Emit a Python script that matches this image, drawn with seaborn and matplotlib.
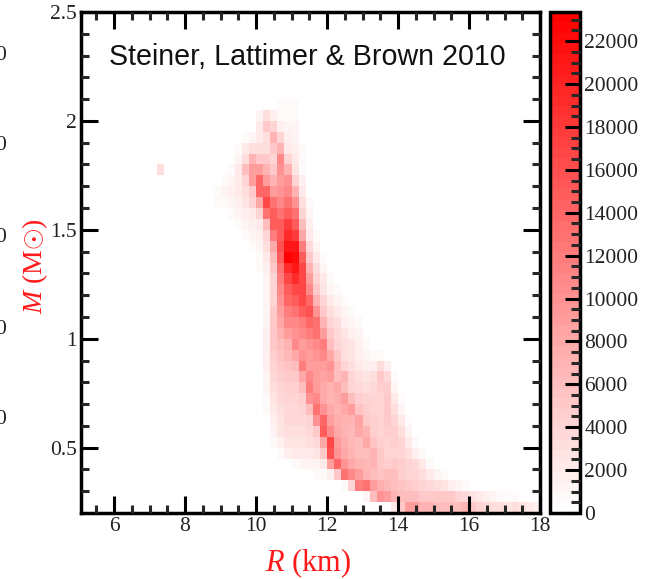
import numpy as np
import pandas as pd
import matplotlib
matplotlib.use("Agg")
import matplotlib.pyplot as plt
from matplotlib.colors import LinearSegmentedColormap
from matplotlib.ticker import FixedLocator
import seaborn as sns

# Histogram: counts in thousands per cell.
R_STEP = 0.2
M_STEP = 0.05
R_EDGES_START, R_EDGES_STOP = 5.0, 18.0
M_EDGES_START, M_EDGES_STOP = 0.2, 2.5

mass_rows = [0.20, 0.25, 0.30, 0.35, 0.40, 0.45, 0.50, 0.55, 0.60, 0.65, 0.70, 0.75, 0.80,
             0.85, 0.90, 0.95, 1.00, 1.05, 1.10, 1.15, 1.20, 1.25, 1.30, 1.35, 1.40, 1.45,
             1.50, 1.55, 1.60, 1.65, 1.70, 1.75, 1.80, 1.85, 1.90, 1.95, 2.00, 2.05]
row_first_R = [13.8, 13.0, 12.4, 11.4, 10.8, 10.6, 10.4, 10.4, 10.2, 10.2, 10.2, 10.2, 10.2,
               10.2, 10.2, 10.2, 10.2, 10.2, 10.0, 10.0, 10.0, 9.8, 9.8, 9.6, 9.6, 9.4,
               9.2, 8.8, 8.4, 8.6, 8.8, 9.0, 9.2, 9.2, 9.6, 9.8, 10.0, 10.0]
row_counts = [
    [2, 5, 9, 9, 7, 7, 6, 6, 6, 6, 7, 5, 4, 3.5, 3, 3, 2.5, 3, 2.5, 2, 1.5],
    [1, 6, 10, 9, 7, 6, 6, 6, 5, 5, 5, 5, 5, 4, 3.5, 2.5, 2, 1.5, 1, .7, .5, .5],
    [.8, 4, 12, 13, 9, 7.5, 6.5, 6, 5.5, 5, 4.5, 4, 3.5, 3, 2.5, 1.8, 1, .5, .2],
    [.3, .5, .8, 1.5, 5, 13, 11, 9, 7, 6, 5.5, 6, 6, 4.5, 4, 4, 3, 2, 1, .5, .2],
    [.3, .8, 1, 1, 1.3, 2, 9, 14, 10, 8, 7, 6.5, 7, 5, 4.5, 5, 4.5, 4, 3.5, 2, .8, .3],
    [.5, 1.5, 2, 2, 2, 2.5, 5, 16, 10, 8, 7, 6, 6, 7, 5, 4, 4, 4, 3, 1.5, .6, .2],
    [.5, 1.5, 2.5, 2.5, 2.5, 3, 3.5, 8, 17, 9, 7.5, 6.5, 6, 8, 5.5, 4.5, 4, 4.5, 4, 2, .8, .2],
    [1, 2.5, 3, 3, 3, 3.5, 5, 15, 11, 8, 7, 6.5, 8, 7, 4.5, 4, 4.5, 4.5, 3, 1.2, .3],
    [.3, 1.5, 2.5, 3.5, 3.5, 3.5, 4, 10, 14, 9, 7.5, 7, 7, 8.5, 5, 4.5, 4, 5, 4, 2, .7, .2],
    [.5, 2, 3, 3.5, 3.5, 4, 6, 13, 10, 8, 7, 8, 9, 5.5, 4.5, 4, 4, 5, 3, 1, .3],
    [.8, 2.5, 3.5, 4, 4, 4.5, 10, 11, 8, 7, 7.5, 9, 6, 4.5, 4, 4, 4, 5, 2, .5],
    [1, 3, 4, 4.5, 4.5, 6, 12, 9, 8, 7, 8, 6, 4, 3.5, 3, 3.5, 4.5, 4.5, 1.2, .3],
    [1.2, 3.5, 4.5, 5, 5, 8, 11, 9, 8.5, 9, 6, 7, 4, 3, 2.5, 3, 5, 3.5, .5],
    [1.5, 4, 5, 5.5, 6, 12, 9, 9, 9, 10, 6, 4, 3, 2, 1.5, 1.5, 3, 1.5, .2],
    [1.5, 4.5, 5.5, 6.5, 8, 10, 9, 10, 11, 8, 5, 3, 2.5, 1.5, 1, .7, .5],
    [1.5, 5, 6, 7, 11, 9, 10, 11, 12, 6, 4, 3, 2.5, 1.5, .7, .4],
    [1.5, 5, 7, 9, 10, 11, 12, 13, 9, 5, 3.5, 2.5, 1.5, 1, .4],
    [1.2, 5, 8, 11, 11, 12, 14, 13, 7, 4, 3, 1.5, 1, .5, .2],
    [.3, 1, 5, 9, 12, 13, 15, 16, 10, 5, 3, 2, 1, .5],
    [.3, 1, 4, 10, 14, 15, 17, 14, 7, 4, 2, 1, .5],
    [.3, 1, 4, 11, 15, 17, 17, 11, 5, 2.5, 1, .5],
    [.2, .4, 1.2, 4, 12, 17, 19, 17, 9, 4, 2, .6],
    [.3, .5, 1.5, 5, 13, 19, 21, 17, 7, 3, 1, .3],
    [.2, .3, .8, 2, 6, 15, 23.3, 22, 15, 5, 2, .5],
    [.3, .5, 1, 3, 8, 16, 21, 21, 12, 3.5, 1, .2],
    [.3, .5, 1, 1.5, 4, 12, 15, 19, 18, 8, 2, .5],
    [.3, .5, 1, 1.5, 2, 6, 15, 15, 18, 15, 6, 1.5, .3],
    [.3, .4, .6, 1, 1.5, 2, 4, 13, 15, 13, 15, 13, 4, 1],
    [.3, .3, .5, .8, 1, 1.5, 2.5, 4, 8, 17, 13, 11, 13, 10, 3, .5],
    [.3, .5, 1, 1.5, 2, 3, 5, 14, 14, 9, 10, 11, 7, 2],
    [.3, .5, 1, 2, 4, 9, 14, 9, 7, 9, 10, 4, 1.5],
    [.3, .5, 2, 6, 9, 9, 7, 5, 10, 7, 2.5, .8],
    [.3, 1, 3, 7, 5, 5, 4, 11, 4, 2, .7],
    [.2, .6, 2, 3, 3, 3, 5, 7, 2, 1.5, .5],
    [.5, 1, 2, 3, 7, 4, 1.5, 1, .3],
    [.3, 2, 5, 4, 1.5, 1, 1, .3],
    [1, 3, 1.5, .8, .8, .8, .2],
    [.2, .4, .4, .5, .7, .6, .1],
]
stray_R, stray_M, stray_count = 7.2, 1.75, 3.0

cbar_ticks = [0, 2000, 4000, 6000, 8000, 10000, 12000, 14000, 16000, 18000, 20000, 22000]
cbar_minor = [500, 1000, 1500, 2500, 3000, 3500, 4500, 5000, 5500, 6500, 7000, 7500, 8500, 9000,
              9500, 10500, 11000, 11500, 12500, 13000, 13500, 14500, 15000, 15500, 16500, 17000,
              17500, 18500, 19000, 19500, 20500, 21000, 21500, 22500, 23000]
cbar_max = 23360
R_ticks = [6, 8, 10, 12, 14, 16, 18]
R_minor = [5.5, 6.5, 7, 7.5, 8.5, 9, 9.5, 10.5, 11, 11.5, 12.5, 13, 13.5, 14.5, 15, 15.5, 16.5, 17, 17.5]
M_ticks = [0.5, 1, 1.5, 2, 2.5]
M_labels = ["0.5", "1", "1.5", "2", "2.5"]
M_minor = [0.3, 0.4, 0.6, 0.7, 0.8, 0.9, 1.1, 1.2, 1.3, 1.4, 1.6, 1.7, 1.8, 1.9, 2.1, 2.2, 2.3, 2.4]
title_text = "Steiner, Lattimer & Brown 2010"

sns.set_style("ticks")
plt.rcParams.update({
    "font.family": ["Liberation Serif", "DejaVu Serif"],
    "mathtext.fontset": "custom",
    "mathtext.rm": "Liberation Serif",
    "mathtext.it": "Liberation Serif:italic",
    "mathtext.bf": "Liberation Serif:bold",
})

nR = int(round((R_EDGES_STOP - R_EDGES_START) / R_STEP))
nM = int(round((M_EDGES_STOP - M_EDGES_START) / M_STEP))
R_cols = np.round(R_EDGES_START + R_STEP * np.arange(nR), 2)
M_idx = np.round(M_EDGES_START + M_STEP * np.arange(nM), 2)
table = pd.DataFrame(0.0, index=M_idx, columns=R_cols)
for m, r0, vals in zip(mass_rows, row_first_R, row_counts):
    for k, v in enumerate(vals):
        r = round(r0 + k * R_STEP, 2)
        if r in table.columns:
            table.loc[m, r] = v * 1000
table.loc[stray_M, stray_R] = stray_count * 1000


def xpos(r):
    return (np.asarray(r, float) - R_EDGES_START) / R_STEP


def ypos(m):
    return (np.asarray(m, float) - M_EDGES_START) / M_STEP


W, H = 654, 579
fig = plt.figure(figsize=(W / 100, H / 100), dpi=100)
ax = fig.add_axes([81 / W, 1 - 513 / H, (540 - 81) / W, (513 - 12) / H])
cax = fig.add_axes([550 / W, 1 - 513 / H, 30 / W, (513 - 12) / H])

cmap = LinearSegmentedColormap.from_list("wr", ["#ffffff", "#ff0000"], N=48)
sns.heatmap(table, ax=ax, cbar_ax=cax, cmap=cmap, vmin=0, vmax=cbar_max,
            xticklabels=False, yticklabels=False, linewidths=0, rasterized=True)
ax.set_xlim(xpos(5.07), xpos(18))
ax.set_ylim(ypos(0.2), ypos(2.5))
ax.set_axisbelow(False)
cax.set_axisbelow(False)

LW = 2.5
for s in ax.spines.values():
    s.set_visible(True)
    s.set_linewidth(LW)
    s.set_color("black")
ax.set_xticks(xpos(R_ticks))
ax.set_xticklabels([str(v) for v in R_ticks])
ax.xaxis.set_minor_locator(FixedLocator(xpos(R_minor)))
ax.set_yticks(ypos(M_ticks))
ax.set_yticklabels(M_labels)
ax.yaxis.set_minor_locator(FixedLocator(ypos(M_minor)))
ax.tick_params(which="major", direction="in", length=12, width=2.2, top=True, right=True,
               bottom=True, left=True, labelsize=15.5, pad=3, color="black", labelcolor="#222222")
ax.tick_params(which="minor", direction="in", length=6, width=2.2, top=True, right=True,
               bottom=True, left=True)
ax.set_xlabel(r"$\mathit{R}$ (km)", fontsize=22, color="#ff1a1a", va="center")
ax.xaxis.set_label_coords((308 - 81) / 459, -(563 - 513) / 501)
ax.set_ylabel(r"$\mathit{M}$ (M$\odot$)", fontsize=20, color="#ff1a1a", va="center")
ax.yaxis.set_label_coords(-(81 - 35) / 459, (513 - 266) / 501)
ax.text((307 - 81) / 459, 1 - (57 - 12) / 501, title_text, transform=ax.transAxes,
        ha="center", va="center", fontsize=20.6, family="Liberation Sans", color="#111111")

cbar = ax.collections[0].colorbar
cbar.set_ticks(cbar_ticks)
cbar.set_ticklabels([str(v) for v in cbar_ticks])
cax.yaxis.set_minor_locator(FixedLocator(cbar_minor))
cax.tick_params(which="major", direction="in", length=11, width=2.2, right=True, labelsize=15.5,
                pad=3, color="black", labelcolor="#222222")
cax.tick_params(which="minor", direction="in", length=6.5, width=2.2, right=True)
cbar.outline.set_visible(True)
cbar.outline.set_linewidth(LW)
cbar.outline.set_edgecolor("black")

# Fragments of the neighbouring panel's colour-bar labels, cut by the image edge.
for y in [55, 145, 237, 330, 420]:
    fig.text(6 / W, 1 - y / H, "0", ha="right", va="center", fontsize=15.5, color="#222222")

fig.savefig("out.png", dpi=100)
